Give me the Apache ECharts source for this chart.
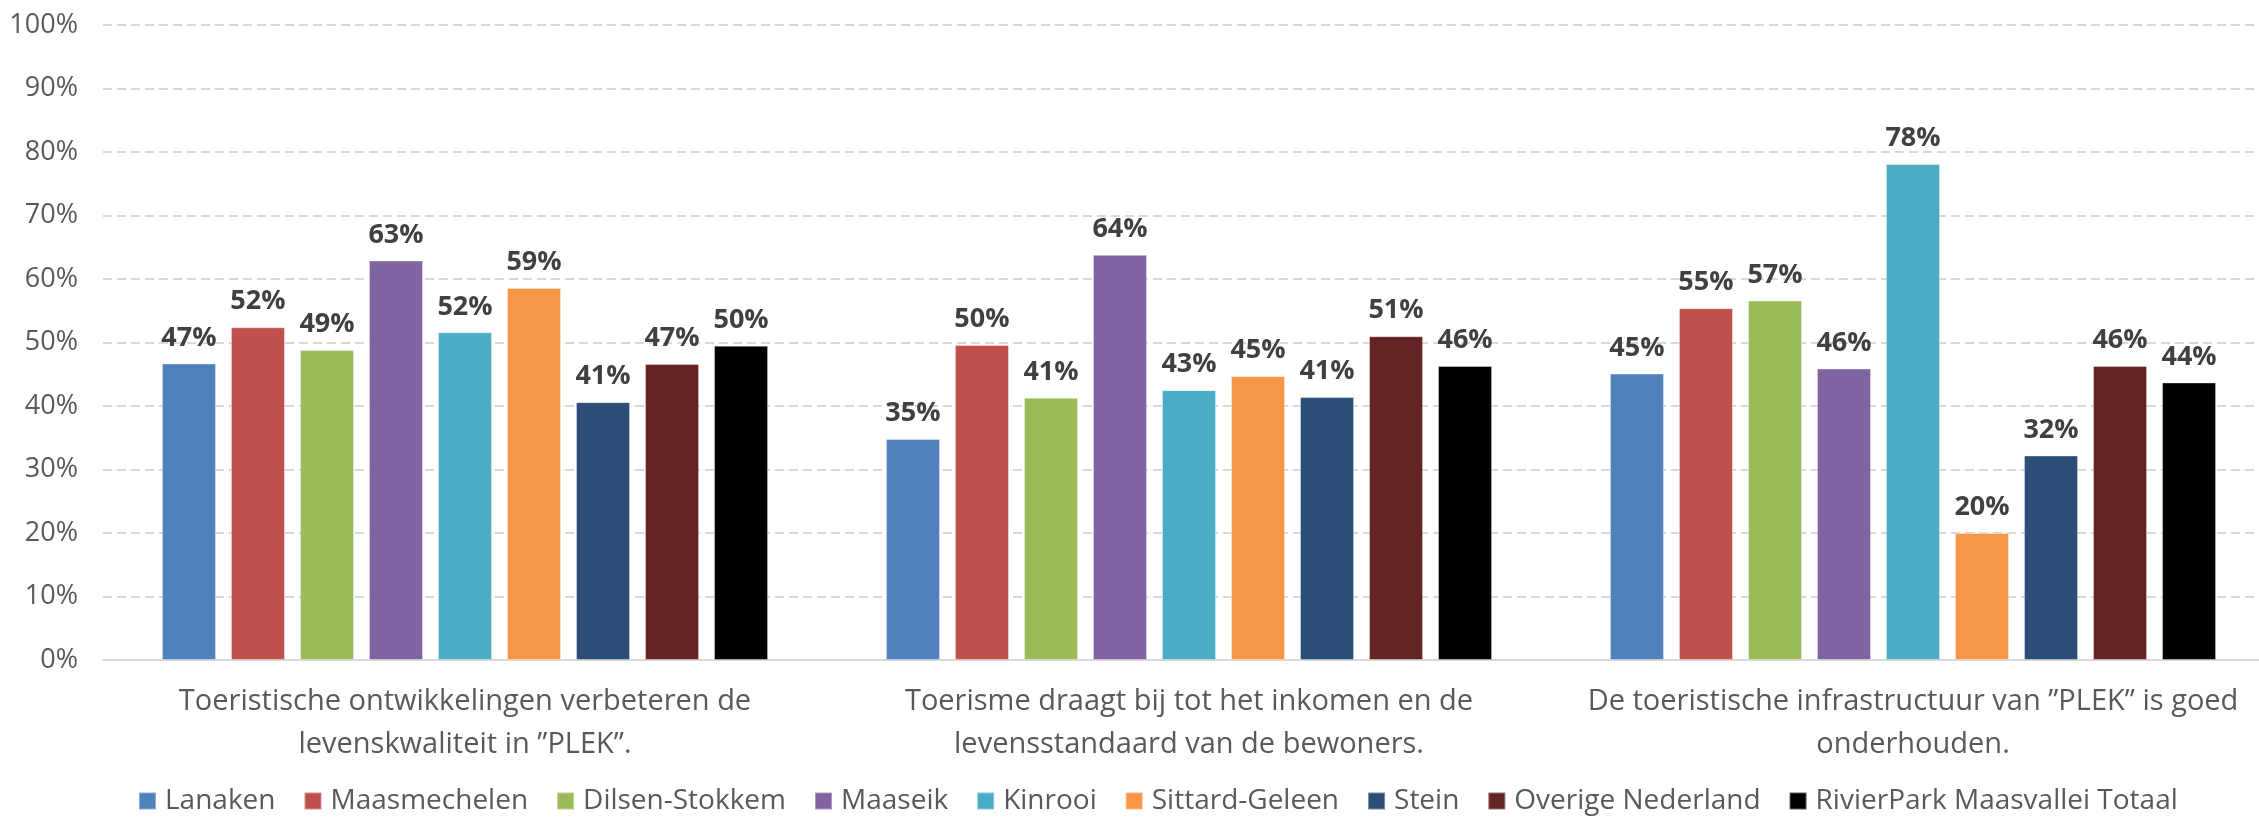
<!DOCTYPE html>
<html>
<head>
<meta charset="utf-8">
<script src="https://cdn.jsdelivr.net/npm/echarts@6/dist/echarts.min.js"></script>
<style>
  html, body { margin: 0; padding: 0; background: #fff; }
  #chart { width: 2259px; height: 817px; }
</style>
</head>
<body>
<div id="chart"></div>
<script>
// stellingen (categorieën)
const categories = [
  "Toeristische ontwikkelingen verbeteren de\nlevenskwaliteit in ”PLEK”.",
  "Toerisme draagt bij tot het inkomen en de\nlevensstandaard van de bewoners.",
  "De toeristische infrastructuur van ”PLEK” is goed\nonderhouden."
];
// % akkoord per gemeente, per stelling
const lanaken = [46.7, 34.8, 45.1];
const maasmechelen = [52.4, 49.6, 55.4];
const dilsenStokkem = [48.8, 41.3, 56.6];
const maaseik = [62.9, 63.8, 45.9];
const kinrooi = [51.6, 42.5, 78.1];
const sittardGeleen = [58.6, 44.7, 20.0];
const stein = [40.6, 41.4, 32.2];
const overigeNederland = [46.6, 51.0, 46.3];
const totaal = [49.5, 46.3, 43.7];

const seriesNames = ["Lanaken", "Maasmechelen", "Dilsen-Stokkem", "Maaseik", "Kinrooi",
  "Sittard-Geleen", "Stein", "Overige Nederland", "RivierPark Maasvallei Totaal"];
const seriesData = [lanaken, maasmechelen, dilsenStokkem, maaseik, kinrooi,
  sittardGeleen, stein, overigeNederland, totaal];
const colors = ["#4F81BD", "#C0504D", "#9BBB59", "#8064A2", "#4BACC6",
  "#F79646", "#2C4D75", "#632523", "#000000"];

const FONT = "Open Sans";
const chart = echarts.init(document.getElementById("chart"));

const options = {
  color: colors,
  animation: false,
  textStyle: { fontFamily: FONT },
  grid: {
    left: 103,
    top: 25,
    width: 2172,
    height: 635,
    containLabel: false,
    outerBoundsMode: "none"
  },
  legend: {
    data: seriesNames,
    left: 138,
    top: 787,
    padding: 0,
    itemWidth: 17,
    itemHeight: 17,
    itemGap: 28,
    icon: "rect",
    selectedMode: false,
    textStyle: { fontFamily: FONT, fontSize: 28, color: "#595959", padding: [0, 0, 0, 4] }
  },
  xAxis: {
    type: "category",
    data: categories,
    axisTick: { show: false },
    axisLine: { lineStyle: { color: "#d9d9d9", width: 2 } },
    axisLabel: {
      interval: 0,
      margin: 20,
      fontFamily: FONT,
      fontSize: 29,
      lineHeight: 43,
      color: "#595959",
      align: "center"
    }
  },
  yAxis: {
    type: "value",
    min: 0,
    max: 100,
    interval: 10,
    axisLine: { show: false },
    axisTick: { show: false },
    axisLabel: {
      formatter: "{value}%",
      margin: 25,
      fontFamily: FONT,
      fontSize: 27,
      color: "#595959"
    },
    splitLine: { lineStyle: { color: "#d9d9d9", width: 2, type: [9, 5] } }
  },
  series: seriesNames.map((name, i) => ({
    name: name,
    type: "bar",
    data: seriesData[i],
    barWidth: 54,
    barGap: "27.8%",
    itemStyle: { borderColor: "rgba(255,255,255,0.35)", borderWidth: 1 },
    label: {
      show: true,
      position: "top",
      distance: 12,
      fontFamily: FONT,
      fontSize: 27,
      fontWeight: "bold",
      color: "#404040",
      formatter: (p) => Math.round(p.value) + "%"
    }
  }))
};
chart.setOption(options);
</script>
</body>
</html>
